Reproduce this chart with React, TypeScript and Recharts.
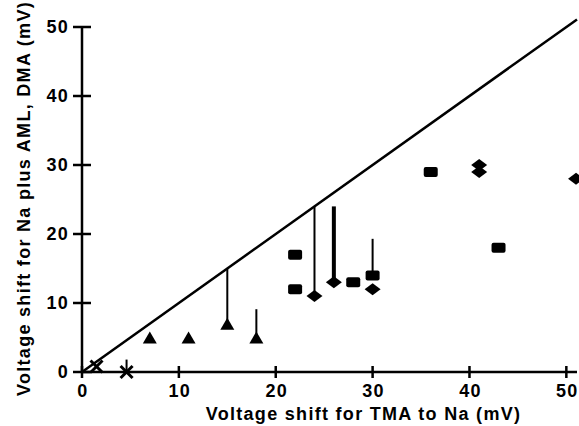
import { ScatterChart, Scatter, XAxis, YAxis, ReferenceLine, ErrorBar } from 'recharts';

// readings (mV)
const triX = [7, 11, 15, 18];
const triY = [5, 5, 7, 5];
const squareX = [22, 22, 28, 30, 36, 43];
const squareY = [17, 12, 13, 14, 29, 18];
const diamondX = [24, 26, 30, 41, 41, 51];
const diamondY = [11, 13, 12, 30, 29, 28];
const crossX = [1.5, 4.6];
const crossY = [0.8, 0];
// vertical bars: from the point up to the top value
const barX = [4.6, 15, 18, 24, 30];
const barFrom = [0, 7, 5, 11, 14];
const barTo = [1.8, 15, 9.1, 24, 19.3];
const thickBarX = [26];
const thickBarFrom = [13];
const thickBarTo = [24];
const diagX = [0, 51.1];
const xTicks = [0, 10, 20, 30, 40, 50];
const yTicks = [0, 10, 20, 30, 40, 50];

const xTitle = 'Voltage shift for TMA to Na (mV)';
const yTitle = 'Voltage shift for Na plus AML, DMA (mV)';

const FONT = '"Liberation Sans", Arial, Helvetica, sans-serif';
const INK = '#000';

const pts = (xs: number[], ys: number[]) => xs.map((x, i) => ({ x, y: ys[i] }));
const bars = (xs: number[], from: number[], to: number[]) =>
  xs.map((x, i) => ({ x, y: from[i], err: [0, to[i] - from[i]] }));

const textStyle = { fontFamily: FONT, fontWeight: 700, fontSize: 18, letterSpacing: 1.3, fill: INK };

function Triangle({ cx, cy }: any) {
  return <polygon points={`${cx - 7},${cy + 6} ${cx},${cy - 6} ${cx + 7},${cy + 6}`} fill={INK} />;
}
function Square({ cx, cy }: any) {
  return <rect x={cx - 7} y={cy - 5} width={14} height={10} rx={2} fill={INK} />;
}
function Diamond({ cx, cy }: any) {
  return <polygon points={`${cx - 8},${cy} ${cx},${cy - 6} ${cx + 8},${cy} ${cx},${cy + 6}`} fill={INK} />;
}
function Cross({ cx, cy }: any) {
  return (
    <g stroke={INK} strokeWidth={3}>
      <line x1={cx - 6} y1={cy - 6} x2={cx + 6} y2={cy + 6} />
      <line x1={cx - 6} y1={cy + 6} x2={cx + 6} y2={cy - 6} />
    </g>
  );
}
// tick marks crossing the axes
function VTick({ cx, cy }: any) {
  return <rect x={cx - 1.25} y={cy - 6} width={2.5} height={12} fill={INK} />;
}
function HTick({ cx, cy }: any) {
  return <rect x={cx - 9} y={cy - 1.25} width={18} height={2.5} fill={INK} />;
}

function YTick(props: any) {
  return (
    <text x={props.x} y={props.y} dy="0.36em" textAnchor="end" {...textStyle}>
      {props.payload.value}
    </text>
  );
}
function XTick(props: any) {
  return (
    <text x={props.x + 1} y={props.y + 12} textAnchor="middle" {...textStyle}>
      {props.payload.value}
    </text>
  );
}

export default function App() {
  return (
    <div style={{ position: 'absolute', left: 0, top: 0, background: '#fff' }}>
      <ScatterChart width={579} height={426} margin={{ top: 27, right: 2, bottom: 0, left: 0 }}>
        <XAxis
          type="number"
          dataKey="x"
          domain={[0, 51.1]}
          ticks={xTicks}
          height={54}
          tickSize={6}
          tickMargin={7}
          tickLine={false}
          tick={(p: any) => <XTick {...p} />}
          axisLine={{ stroke: INK, strokeWidth: 2.5 }}
          label={{
            content: ({ viewBox }: any) => (
              <text x={viewBox.x + viewBox.width / 2 + 34} y={viewBox.y + 48} textAnchor="middle" {...textStyle}>
                {xTitle}
              </text>
            ),
          }}
        />
        <YAxis
          type="number"
          dataKey="y"
          domain={[0, 50]}
          ticks={yTicks}
          width={82}
          tickSize={9}
          tickMargin={4}
          tickLine={false}
          tick={(p: any) => <YTick {...p} />}
          axisLine={{ stroke: INK, strokeWidth: 2.5 }}
          label={{
            content: ({ viewBox }: any) => {
              const cx = viewBox.x + 30;
              const cy = viewBox.y + viewBox.height / 2 - 1;
              return (
                <text x={cx} y={cy} transform={`rotate(-90 ${cx} ${cy})`} textAnchor="middle" {...textStyle}>
                  {yTitle}
                </text>
              );
            },
          }}
        />
        <ReferenceLine
          segment={diagX.map((v) => ({ x: v, y: v }))}
          stroke={INK}
          strokeWidth={2.5}
          ifOverflow="visible"
        />
        <Scatter data={bars(barX, barFrom, barTo)} shape={() => <g />} isAnimationActive={false}>
          <ErrorBar dataKey="err" direction="y" width={0} stroke={INK} strokeWidth={2} isAnimationActive={false} />
        </Scatter>
        <Scatter data={bars(thickBarX, thickBarFrom, thickBarTo)} shape={() => <g />} isAnimationActive={false}>
          <ErrorBar dataKey="err" direction="y" width={0} stroke={INK} strokeWidth={4} isAnimationActive={false} />
        </Scatter>
        <Scatter data={pts(triX, triY)} shape={(p: any) => <Triangle {...p} />} isAnimationActive={false} />
        <Scatter data={pts(squareX, squareY)} shape={(p: any) => <Square {...p} />} isAnimationActive={false} />
        <Scatter data={pts(diamondX, diamondY)} shape={(p: any) => <Diamond {...p} />} isAnimationActive={false} />
        <Scatter data={pts(crossX, crossY)} shape={(p: any) => <Cross {...p} />} isAnimationActive={false} />
        <Scatter data={pts(xTicks, xTicks.map(() => 0))} shape={(p: any) => <VTick {...p} />} isAnimationActive={false} />
        <Scatter data={pts(yTicks.map(() => 0), yTicks)} shape={(p: any) => <HTick {...p} />} isAnimationActive={false} />
      </ScatterChart>
    </div>
  );
}
